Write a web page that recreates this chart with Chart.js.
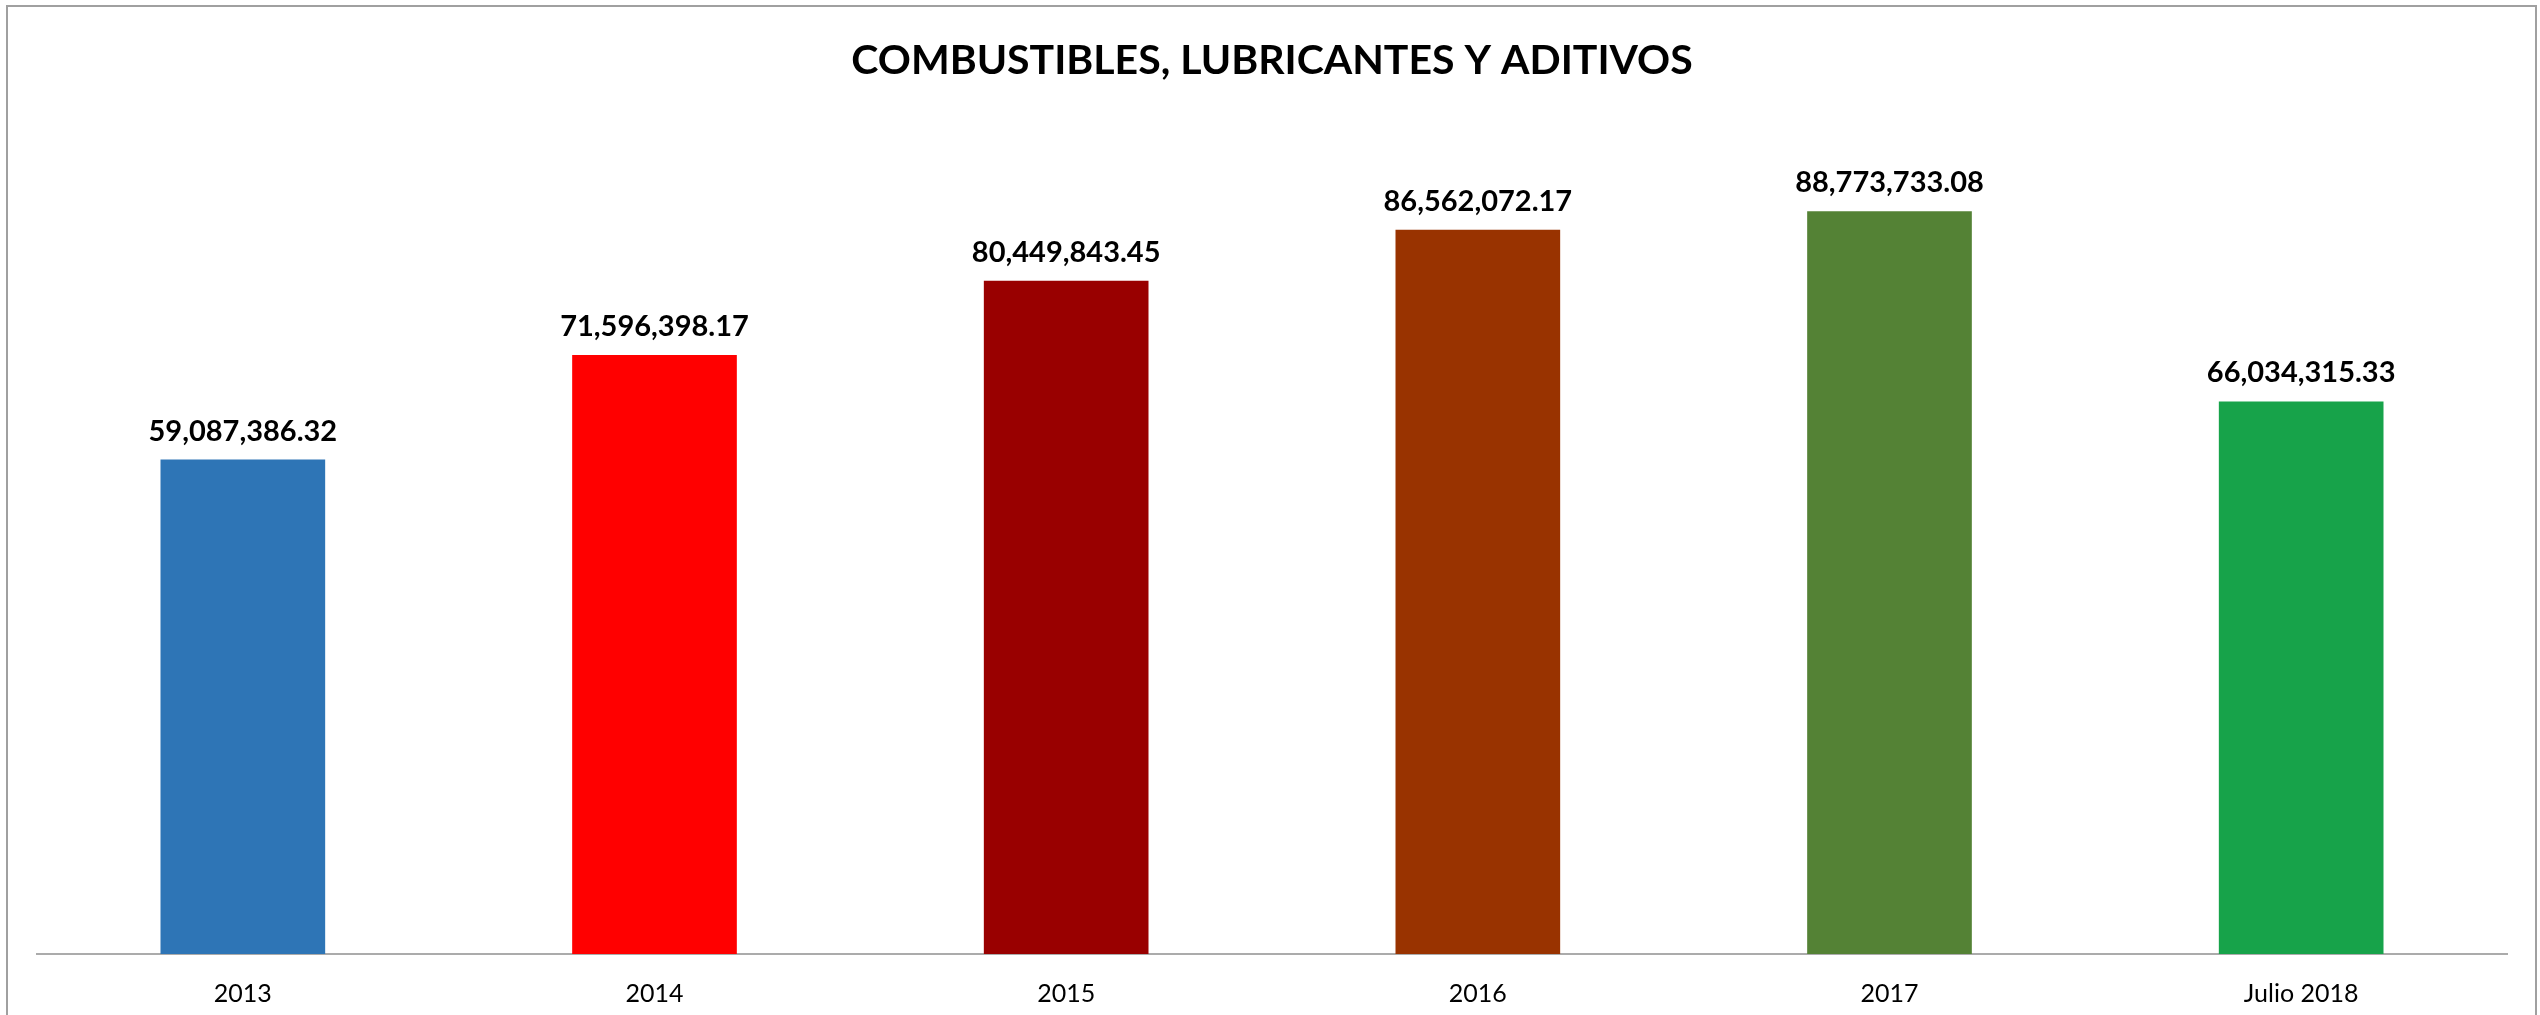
<!DOCTYPE html>
<html>
<head>
<meta charset="utf-8">
<script src="https://cdn.jsdelivr.net/npm/chart.js@4"></script>
<style>
  html, body { margin: 0; padding: 0; background: #ffffff; overflow: hidden; }
  canvas { display: block; }
</style>
</head>
<body>
<canvas id="c" width="2540" height="1015"></canvas>
<script>
const titleText = "COMBUSTIBLES, LUBRICANTES Y ADITIVOS";
const categories = ["2013", "2014", "2015", "2016", "2017", "Julio 2018"];
const values = [59087386.32, 71596398.17, 80449843.45, 86562072.17, 88773733.08, 66034315.33];
const barColors = ["#2E75B6", "#FF0000", "#990000", "#993300", "#548235", "#17A34A"];
const yMin = 0;
const yMax = 100000000;

const fmt = v => v.toLocaleString("en-US", { minimumFractionDigits: 2, maximumFractionDigits: 2 });

const frame = {
  id: "frame",
  beforeDraw(chart) {
    const ctx = chart.ctx;
    ctx.save();
    ctx.fillStyle = "#ffffff";
    ctx.fillRect(0, 0, chart.width, chart.height);
    ctx.strokeStyle = "#a0a0a0";
    ctx.lineWidth = 2;
    ctx.strokeRect(7, 6, chart.width - 11, chart.height + 10);
    ctx.restore();
  }
};

const valueLabels = {
  id: "valueLabels",
  afterDatasetsDraw(chart) {
    const ctx = chart.ctx;
    const meta = chart.getDatasetMeta(0);
    ctx.save();
    ctx.font = "bold 29px Lato";
    ctx.fillStyle = "#000000";
    ctx.textAlign = "center";
    ctx.textBaseline = "alphabetic";
    meta.data.forEach((bar, i) => {
      ctx.fillText(fmt(values[i]), bar.x, bar.y - 19);
    });
    ctx.restore();
  }
};

new Chart(document.getElementById("c"), {
  type: "bar",
  data: {
    labels: categories,
    datasets: [{
      data: values,
      backgroundColor: barColors,
      borderWidth: 0,
      categoryPercentage: 1.0,
      barPercentage: 0.4
    }]
  },
  options: {
    responsive: false,
    animation: false,
    devicePixelRatio: 1,
    layout: { padding: { top: 8, left: 37, right: 33, bottom: 0 } },
    plugins: {
      legend: { display: false },
      tooltip: { enabled: false },
      title: {
        display: true,
        text: titleText,
        color: "#000000",
        font: { family: "Lato", size: 41, weight: "bold", lineHeight: 1.2 },
        padding: { top: 28, bottom: 32 }
      }
    },
    scales: {
      x: {
        grid: { display: false, drawTicks: false },
        border: { display: true, color: "#ababab", width: 2 },
        ticks: {
          color: "#000000",
          font: { family: "Lato", size: 25, lineHeight: 1.2 },
          padding: 25,
          maxRotation: 0,
          autoSkip: false
        },
        afterFit(scale) { scale.height = 61; }
      },
      y: {
        display: false,
        min: yMin,
        max: yMax
      }
    }
  },
  plugins: [frame, valueLabels]
});
</script>
</body>
</html>
